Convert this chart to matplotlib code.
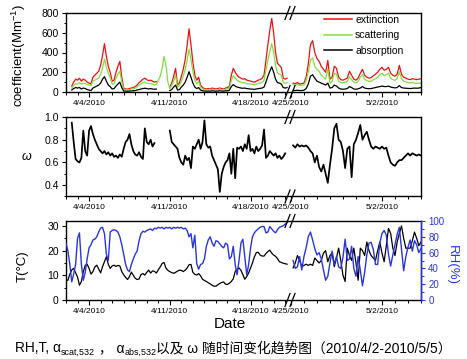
import numpy as np
import matplotlib
matplotlib.use("Agg")
import matplotlib.pyplot as plt
from matplotlib.ticker import MultipleLocator, FixedLocator
from matplotlib.lines import Line2D

plt.rcParams['font.family'] = ['Liberation Sans', 'Noto Sans CJK SC', 'DejaVu Sans']
plt.rcParams['mathtext.fontset'] = 'custom'
plt.rcParams['mathtext.rm'] = 'Liberation Sans'
plt.rcParams['mathtext.it'] = 'Liberation Sans:italic'

nan = np.nan

# ---------------- data (4-hourly, days since 2010-04-02 00:00) ----------------
seg1_days = np.arange(116) / 6.0            # 4/2 00:00 .. 4/21 04:00
seg2_days = 23.0 + np.arange(61) / 6.0      # 4/25 00:00 .. 5/5 00:00

scat1 = [nan, nan, nan, 40, 65, 85,
         80, 95, 80, 90, 85, 75,
         70, 65, 110, 120, 130, 140,
         180, 240, 335, 250, 190, 145,
         80, 85, 140, 180, 210, 105,
         30, 22, 22, 25, 30, 33,
         40, 50, 70, 80, 95, 102,
         90, 85, 85, 80, 72, 75,
         120, 160, 240, 360, 270, 100,
         35, 65, 110, 170, 50, 65,
         110, 160, 230, 320, 435, 330,
         210, 120, 85, 105, 50, 33,
         25, 22, 25, 22, 28, 25,
         22, 25, 28, 25, 22, 28,
         33, 42, 115, 165, 140, 120,
         105, 100, 92, 95, 85, 83,
         80, 77, 73, 80, 87, 90,
         100, 120, 220, 320, 410, 490,
         400, 270, 195, 180, 170, 95,
         90, 95]
abs1 = [nan, nan, nan, 20, 35, 45,
        40, 45, 30, 40, 35, 25,
        20, 15, 40, 50, 60, 70,
        90, 130, 155, 110, 70, 55,
        30, 35, 60, 80, 100, 45,
        10, 8, 8, 10, 10, 12,
        15, 20, 25, 30, 35, 38,
        35, 30, 35, 30, 28, 30,
        nan, nan, nan, nan, nan, nan,
        15, 25, 50, 70, 20, 25,
        50, 70, 100, 150, 205, 150,
        90, 50, 35, 45, 20, 12,
        10, 8, 10, 8, 12, 10,
        8, 10, 12, 10, 8, 12,
        12, 18, 55, 75, 60, 50,
        45, 40, 38, 40, 35, 32,
        30, 28, 27, 30, 33, 35,
        40, 50, 100, 160, 210, 255,
        200, 130, 95, 90, 80, 45,
        40, 45]
scat2 = [nan,
         75, 70, 77, 65, 70, 72,
         115, 200, 320, 345, 260, 230,
         210, 170, 150, 130, 230, 90,
         105, 190, 180, 110, 95, 92,
         100, 105, 155, 125, 100, 92,
         108, 150, 175, 130, 115, 107,
         110, 125, 135, 150, 175, 190,
         165, 175, 190, 140, 125, 118,
         135, 205, 135, 110, 102, 94,
         90, 97, 90, 87, 90, 90]
abs2 = [nan,
        15, 15, 18, 15, 15, 18,
        35, 80, 160, 175, 140, 110,
        100, 90, 80, 70, 90, 40,
        45, 70, 60, 40, 30, 28,
        30, 35, 55, 45, 30, 28,
        32, 40, 55, 40, 35, 33,
        35, 40, 45, 50, 55, 60,
        55, 55, 60, 50, 45, 42,
        45, 65, 45, 40, 38, 36,
        35, 38, 40, 38, 40, 45]

omega1 = [nan, nan, nan, 0.95, 0.78, 0.63,
          0.61, 0.60, 0.64, 0.88, 0.70, 0.66,
          0.88, 0.92, 0.85, 0.80, 0.76, 0.72,
          0.70, 0.68, 0.70, 0.67, 0.69, 0.66,
          0.68, 0.65, 0.66, 0.64, 0.67, 0.65,
          0.72, 0.78, 0.80, 0.85, 0.76, 0.70,
          0.67, 0.66, 0.69, 0.65, 0.63, 0.90,
          0.78, 0.76, 0.80, 0.74, 0.77, nan,
          nan, nan, nan, nan, nan, nan,
          0.88, 0.78, 0.76, 0.74, 0.72, 0.64,
          0.60, 0.58, 0.66, 0.62, 0.64, 0.55,
          0.74, 0.72, 0.76, 0.80, 0.72, 0.78,
          0.97, 0.76, 0.73, 0.74, 0.66, 0.62,
          0.58, 0.54, 0.34, 0.50, 0.56, 0.60,
          0.62, 0.68, 0.50, 0.72, 0.46, 0.73,
          0.72, 0.74, 0.70, 0.76, 0.72, 0.84,
          0.70, 0.72, 0.68, 0.74, 0.70, 0.72,
          0.75, 0.89, 0.64, 0.66, 0.70, 0.68,
          0.66, 0.68, 0.64, 0.66, 0.63, 0.65,
          0.68, nan]
omega2 = [nan,
          0.75, 0.73, 0.76, 0.74, 0.75, 0.74,
          0.75, 0.73, 0.70, 0.68, 0.60, 0.66,
          0.56, 0.52, 0.58, 0.50, 0.42, 0.58,
          0.72, 0.90, 0.94, 0.80, 0.78, 0.70,
          0.55, 0.72, 0.74, 0.47, 0.76, 0.80,
          0.86, 0.93, 0.80, 0.84, 0.87, 0.80,
          0.74, 0.72, 0.74, 0.73, 0.72, 0.74,
          0.72, 0.73, 0.66, 0.60, 0.58, 0.57,
          0.60, 0.62, 0.62, 0.64, 0.66, 0.68,
          0.66, 0.68, 0.67, 0.66, 0.67, 0.66]

temp1 = [8, 8, 10.5, 12.2, 12.8, 11,
         9.3, 6, 7.5, 11.5, 14, 14.5,
         12.8, 10.5, 11.5, 13.4, 14.1, 12.5,
         11, 13.5, 15.5, 17.5, 14.5, 12.8,
         13.8, 14.1, 13.6, 14, 13.8, 11.5,
         10.2, 9.2, 8.3, 9.5, 11.3, 10,
         8.8, 8.3, 8.5, 10.3, 10.7, 10.1,
         11.2, 12.1, 10.9, 11.8, 11.6, 10.9,
         12.2, 13.4, 14.8, 15.2, 12.9, 12,
         11.5, 11.1, 10.8, 11.2, 11.7, 12.1,
         12, 11.5, 12.1, 13, 14.3, 14.4,
         11.2, 10.4, 10.1, 10.7, 9.8, 8.4,
         7.9, 7.5, 7, 6.5, 6, 5.6,
         5.6, 6.2, 6.7, 7.1, 7.3, 6.4,
         6.3, 6.8, 7.5, 8.6, 11.5, 12.5,
         13, 12, 10.3, 8.4, 9.5, 11,
         13, 15, 17.5, 19.2, 19.3, 18.2,
         17.8, 17.8, 18.8, 19.6, 20.2, 19,
         18.2, 17.7, 16.8, 15.5, 15.2, 14.9,
         14.7, 14.5]
temp2 = [nan,
         13, 15, 18, 16, 13.5, 14,
         14.5, 14, 14.5, 14, 17, 16,
         15, 16, 19, 20, 15.5, 18,
         19, 13.5, 17, 21, 16, 10,
         7.5, 21, 18, 16, 21, 15,
         8, 21, 20, 18, 23.5, 20,
         18, 17, 16, 20, 23.5, 19,
         15.5, 22, 29, 27, 21, 18,
         23.5, 27, 30, 25, 21, 21,
         21, 24, 27.5, 25, 22, 23.5]

rh1 = [72, 62, 45, 23, 33, 45,
       78, 85, 45, 25, 35, 52,
       66, 70, 76, 77, 80, 86,
       91, 92, 84, 58, 50, 86,
       88, 89, 88, 86, 80, 70,
       58, 45, 38, 36, 45, 52,
       58, 62, 75, 84, 87, 86,
       88, 89, 90, 88, 91, 90,
       92, 91, 92, 90, 92, 91,
       92, 90, 92, 91, 92, 91,
       92, 90, 91, 88, 80, 84,
       66, 82, 46, 39, 45, 46,
       52, 68, 76, 80, 72, 68,
       75, 74, 71, 68, 66, 72,
       70, 52, 55, 68, 45, 32,
       50, 72, 77, 55, 32, 45,
       66, 80, 85, 88, 90, 92,
       93, 93, 85, 86, 93, 90,
       87, 85, 89, 92, 93, 94,
       96, 98]
rh2 = [nan,
       50, 40, 42, 55, 38, 55,
       66, 80, 86, 76, 65, 57,
       60, 52, 38, 25, 30, 47,
       62, 45, 55, 42, 40, 54,
       77, 50, 52, 68, 40, 30,
       55, 38, 18, 35, 57, 72,
       73, 64, 45, 45, 72, 84,
       88, 82, 58, 43, 57, 70,
       83, 92, 65, 37, 55, 67,
       76, 62, 75, 70, 60, 65]

tick_days = [2, 9, 16, 23, 30]
tick_labels = ['4/4/2010', '4/11/2010', '4/18/2010', '4/25/2010', '5/2/2010']
minor_days = [d for d in list(range(0, 20)) + list(range(23, 34)) if d not in tick_days]

# ---------------- broken time axis ----------------
SEG1_LEN = 19.5
R2 = 13.0 / 11.53
XMAX = SEG1_LEN + 10 * R2


def tx(d):
    d = np.asarray(d, dtype=float)
    return np.where(d <= 21.0, d, SEG1_LEN + (d - 23.0) * R2)


def join(a, b):
    return np.concatenate([np.asarray(a, float), [nan], np.asarray(b, float)])


days = np.concatenate([seg1_days, [21.0], seg2_days])
xx = tx(days)
scat = join(scat1, scat2)
absb = join(abs1, abs2)
ext = scat + absb
omega = join(omega1, omega2)
temp = join(temp1, temp2)
rh = join(rh1, rh2)

W, H = 467, 359
fig = plt.figure(figsize=(W / 100, H / 100), dpi=100)


def rect(top, bottom):
    return [66 / W, 1 - bottom / H, 355 / W, (bottom - top) / H]


ax1 = fig.add_axes(rect(13, 92))
ax2 = fig.add_axes(rect(117, 196.5))
ax3 = fig.add_axes(rect(221, 300))
ax3r = ax3.twinx()

RED, GREEN, BLUE = '#ee1010', '#7ee040', '#2a35dd'
LW = 0.9

ax1.plot(xx, ext, color=RED, lw=LW, label='extinction')
ax1.plot(xx, scat, color=GREEN, lw=LW, label='scattering')
ax1.plot(xx, absb, color='black', lw=LW, label='absorption')
ax1.set_ylim(0, 800)
ax1.yaxis.set_major_locator(MultipleLocator(200))
ax1.yaxis.set_minor_locator(MultipleLocator(100))
leg = ax1.legend(loc='upper right', bbox_to_anchor=(0.955, 1.0), frameon=False,
                 fontsize=7.5, handlelength=2.6, handletextpad=0.35,
                 labelspacing=0.55, borderpad=0.15, borderaxespad=0.0)
for h in leg.get_lines():
    h.set_linewidth(1.1)

ax2.plot(xx, omega, color='black', lw=1.25)
ax2.set_ylim(0.3, 1.0)
ax2.yaxis.set_major_locator(FixedLocator([0.4, 0.6, 0.8, 1.0]))
ax2.yaxis.set_minor_locator(FixedLocator([0.3, 0.5, 0.7, 0.9]))

ax3.plot(xx, temp, color='black', lw=LW)
ax3.set_ylim(0, 32)
ax3.yaxis.set_major_locator(MultipleLocator(10))
ax3.yaxis.set_minor_locator(MultipleLocator(5))
ax3r.plot(xx, rh, color=BLUE, lw=1.0)
ax3r.set_ylim(0, 100)
ax3r.yaxis.set_major_locator(MultipleLocator(20))
ax3r.yaxis.set_minor_locator(MultipleLocator(10))

for ax in (ax1, ax2, ax3):
    ax.set_xlim(0, XMAX)
    ax.xaxis.set_major_locator(FixedLocator(tx(tick_days)))
    ax.xaxis.set_minor_locator(FixedLocator(tx(minor_days)))
    ax.set_xticklabels(tick_labels)
    ax.tick_params(axis='x', which='major', direction='out', length=3.6, width=0.8,
                   labelsize=6, pad=2.0)
    ax.tick_params(axis='x', which='minor', direction='out', length=2.0, width=0.7)
    ax.tick_params(axis='y', which='major', direction='out', length=3.2, width=0.8,
                   labelsize=7.5, pad=2.0)
    ax.tick_params(axis='y', which='minor', direction='out', length=1.8, width=0.7)
    for s in ax.spines.values():
        s.set_linewidth(1.0)

ax3r.tick_params(axis='y', which='major', direction='out', length=3.2, width=0.8,
                 labelsize=7, pad=2.0, colors=BLUE)
ax3r.tick_params(axis='y', which='minor', direction='out', length=1.8, width=0.7,
                 colors=BLUE)
ax3r.spines['right'].set_color(BLUE)
ax3r.spines['right'].set_linewidth(1.0)
ax3r.spines['left'].set_visible(False)
ax3r.spines['top'].set_visible(False)
ax3r.spines['bottom'].set_visible(False)

# break marks "//"
for top, bottom in ((13, 92), (117, 196.5), (221, 300)):
    for ys in (top, bottom):
        for xc in (287.5, 292.5):
            fig.add_artist(Line2D([(xc - 2.5) / W, (xc + 2.5) / W],
                                  [1 - (ys + 6.5) / H, 1 - (ys - 6.5) / H],
                                  transform=fig.transFigure, color='black', lw=0.9,
                                  clip_on=False))

# axis labels
fig.text(19 / W, 1 - 56 / H, 'coefficient(Mm$^{-1}$)', rotation=90, ha='center',
         va='center', fontsize=9.5)
fig.text(27 / W, 1 - 157 / H, r'$\omega$', ha='center', va='center', fontsize=9)
fig.text(22.5 / W, 1 - 266 / H, 'T(°C)', rotation=90, ha='center', va='center',
         fontsize=9.5)
fig.text(452 / W, 1 - 265 / H, 'RH(%)', rotation=270, ha='center', va='center',
         fontsize=9.5, color=BLUE)
fig.text(230 / W, 1 - 324 / H, 'Date', ha='center', va='center', fontsize=11)

# caption built from pieces (subscripts lowered)
fig.canvas.draw()
rend = fig.canvas.get_renderer()
pieces = [("RH,T, α", 9.9, 0), ("scat,532", 6.4, -3), (" ， α", 9.9, 0),
          ("abs,532", 6.4, -3), ("以及 ω 随时间变化趋势图（2010/4/2-2010/5/5）", 9.9, 0)]
xpos = 15.0
base = H - 352.0
for s, fs, dy in pieces:
    t = fig.text(xpos / W, (base + dy) / H, s, fontsize=fs, ha='left', va='baseline')
    bb = t.get_window_extent(renderer=rend)
    xpos += bb.width

fig.savefig('out.png', dpi=100)
